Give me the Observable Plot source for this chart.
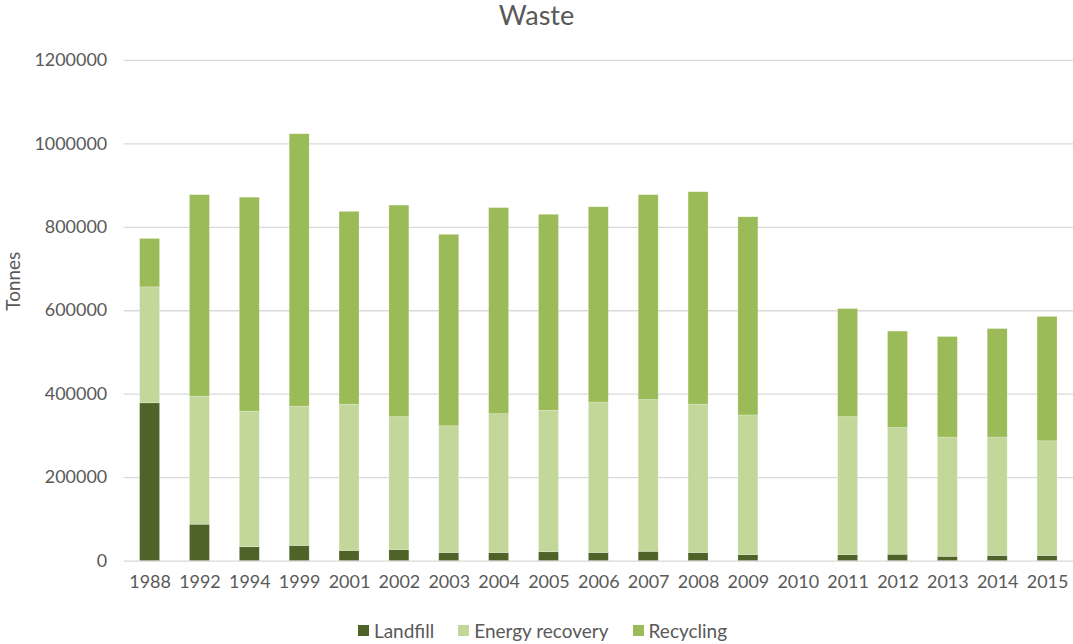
<!DOCTYPE html>
<html>
<head>
<meta charset="utf-8">
<script src="https://cdn.jsdelivr.net/npm/d3@7"></script>
<script src="https://cdn.jsdelivr.net/npm/@observablehq/plot@0.6"></script>
<style>
  html, body { margin: 0; padding: 0; background: #fff; }
  body { width: 1073px; height: 644px; overflow: hidden; font-family: Lato, "Open Sans", sans-serif; color: #595959; }
  #title { width: 1073px; height: 36px; line-height: 30px; text-align: center; font-size: 27px; color: #595959; }
  #chart { width: 1073px; overflow: hidden; }
  #chart svg { display: block; }
  #legend { width: 1073px; display: flex; justify-content: center; align-items: center; gap: 24px; font-size: 19px; color: #595959; padding-top: 4px; height: 24px; margin-left: 6px; }
  #legend .item { display: flex; align-items: center; gap: 5px; }
  #legend .sw { width: 11px; height: 11px; display: inline-block; }
</style>
</head>
<body>
<div id="title">Waste</div>
<div id="chart"></div>
<div id="legend"></div>
<script>
const years = [1988, 1992, 1994, 1999, 2001, 2002, 2003, 2004, 2005, 2006, 2007, 2008, 2009, 2010, 2011, 2012, 2013, 2014, 2015];
const landfill = [378000, 87000, 33000, 36000, 24000, 26000, 19000, 19000, 21000, 19000, 22000, 19000, 14000, null, 14000, 15000, 10000, 12000, 12000];
const energyRecovery = [278000, 307000, 325000, 334000, 351000, 319000, 304000, 333000, 339000, 361000, 364000, 356000, 335000, null, 331000, 304000, 286000, 284000, 275000];
const recycling = [116000, 483000, 513000, 653000, 462000, 507000, 459000, 494000, 470000, 468000, 491000, 509000, 475000, null, 259000, 231000, 241000, 260000, 298000];
const seriesNames = ["Landfill", "Energy recovery", "Recycling"];
const seriesColors = ["#4f6228", "#c4d79b", "#9bbb59"];
const yTicks = [0, 200000, 400000, 600000, 800000, 1000000, 1200000];

const seriesValues = [landfill, energyRecovery, recycling];
const rows = [];
seriesNames.forEach((s, i) => {
  years.forEach((yr, j) => {
    const v = seriesValues[i][j];
    if (v != null) rows.push({ year: String(yr), series: s, value: v });
  });
});

const chart = Plot.plot({
  width: 1076,
  height: 580,
  marginLeft: 124,
  marginRight: 0,
  marginTop: 24,
  marginBottom: 54,
  style: { fontFamily: "Lato, 'Open Sans', sans-serif", color: "#595959", background: "#fff" },
  x: { domain: years.map(String), paddingInner: 0.6, paddingOuter: 0.3, label: null },
  y: { domain: [0, 1200000], label: null },
  color: { domain: seriesNames, range: seriesColors },
  marks: [
    Plot.gridY(yTicks, { stroke: "#d9d9d9", strokeOpacity: 1, strokeWidth: 1.3 }),
    Plot.barY(rows, { x: "year", y: "value", fill: "series", stroke: "#ffffff", strokeOpacity: 0.35, strokeWidth: 0.6 }),
    Plot.axisX({ tickSize: 0, tickPadding: 14, fontSize: 18, fill: "#595959" }),
    Plot.axisY({ ticks: yTicks, tickSize: 0, tickPadding: 17, fontSize: 18, fill: "#595959", tickFormat: d => String(d) }),
    Plot.text(["Tonnes"], { frameAnchor: "left", rotate: -90, dx: -111, fontSize: 19, fill: "#595959" })
  ]
});
document.getElementById("chart").appendChild(chart);

const legend = document.getElementById("legend");
seriesNames.forEach((s, i) => {
  const item = document.createElement("div");
  item.className = "item";
  const sw = document.createElement("span");
  sw.className = "sw";
  sw.style.background = seriesColors[i];
  const label = document.createElement("span");
  label.textContent = s;
  item.appendChild(sw);
  item.appendChild(label);
  legend.appendChild(item);
});
</script>
</body>
</html>
